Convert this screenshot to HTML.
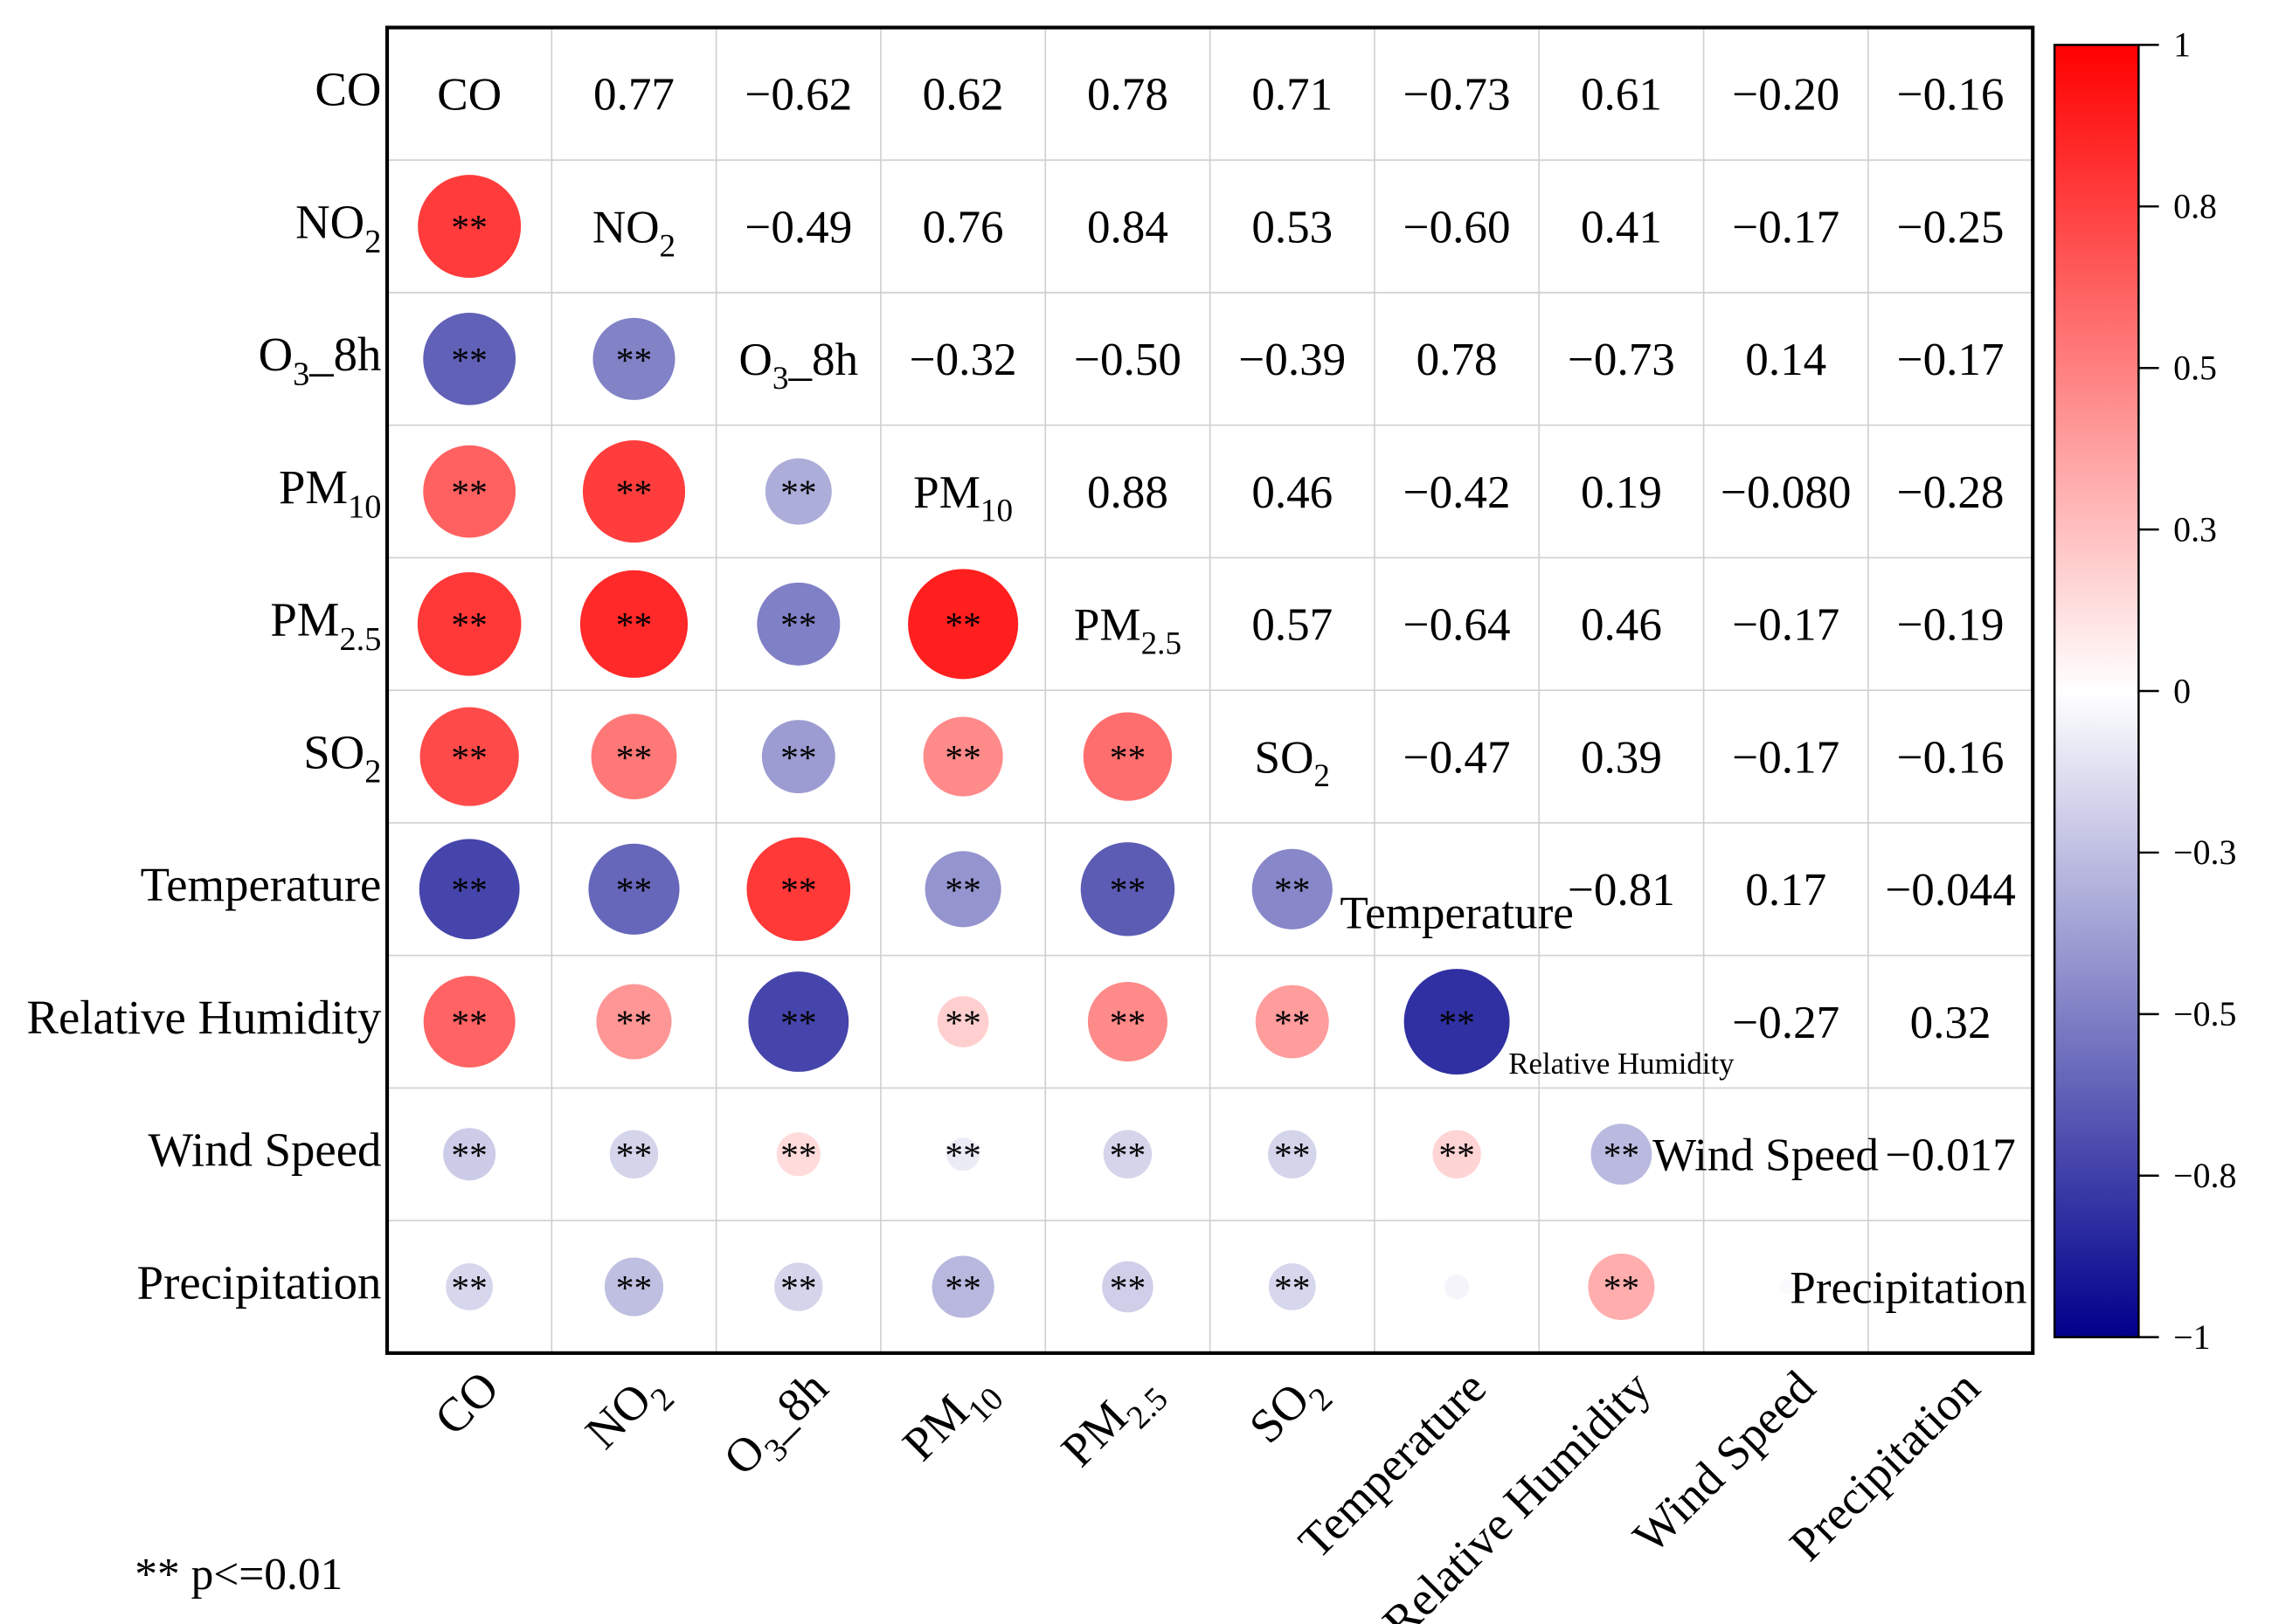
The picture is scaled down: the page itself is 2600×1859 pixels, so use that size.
<!DOCTYPE html>
<html><head><meta charset="utf-8"><style>
html,body{margin:0;padding:0;background:#fff;}
svg{display:block;font-family:"Liberation Serif",serif;}
</style></head><body>
<svg id="chart" width="2600" height="1859" viewBox="0 0 1567 1121" preserveAspectRatio="none" xmlns="http://www.w3.org/2000/svg">
<defs>
<linearGradient id="cbar" x1="0" y1="0" x2="0" y2="1">
<stop offset="0" stop-color="rgb(255,0,0)"/>
<stop offset="0.5" stop-color="rgb(255,255,255)"/>
<stop offset="1" stop-color="rgb(0,0,140)"/>
</linearGradient>
</defs>
<g id="grid"></g>
<g id="cells"></g>
<rect x="267" y="19" width="1135" height="915" fill="none" stroke="#000" stroke-width="2.5"/>
<g id="ylabels"></g>
<g id="xlabels"></g>
<g id="colorbar">
<rect x="1417" y="31" width="58" height="892" fill="url(#cbar)" stroke="#000" stroke-width="1.5"/>
</g>
<text x="93" y="1097" font-size="31">** p&lt;=0.01</text>
</svg>
<script>
const names = ["CO","NO2","O3_8h","PM10","PM2.5","SO2","Temperature","Relative Humidity","Wind Speed","Precipitation"];
const upperRows = [
 [0.77,-0.62,0.62,0.78,0.71,-0.73,0.61,-0.20,-0.16],
 [-0.49,0.76,0.84,0.53,-0.60,0.41,-0.17,-0.25],
 [-0.32,-0.50,-0.39,0.78,-0.73,0.14,-0.17],
 [0.88,0.46,-0.42,0.19,-0.080,-0.28],
 [0.57,-0.64,0.46,-0.17,-0.19],
 [-0.47,0.39,-0.17,-0.16],
 [-0.81,0.17,-0.044],
 [-0.27,0.32],
 [-0.017]
];
const upperText = [
 ["0.77","−0.62","0.62","0.78","0.71","−0.73","0.61","−0.20","−0.16"],
 ["−0.49","0.76","0.84","0.53","−0.60","0.41","−0.17","−0.25"],
 ["−0.32","−0.50","−0.39","0.78","−0.73","0.14","−0.17"],
 ["0.88","0.46","−0.42","0.19","−0.080","−0.28"],
 ["0.57","−0.64","0.46","−0.17","−0.19"],
 ["−0.47","0.39","−0.17","−0.16"],
 ["−0.81","0.17","−0.044"],
 ["−0.27","0.32"],
 ["−0.017"]
];
const cbTicks = [1,0.75,0.5,0.25,0,-0.25,-0.5,-0.75,-1];
const cbLabels = ["1","0.8","0.5","0.3","0","−0.3","−0.5","−0.8","−1"];

const NS="http://www.w3.org/2000/svg";
const X0=267,Y0=19,CW=113.5,RH=91.5,N=10;
const cx=i=>X0+CW*(i+0.5), cy=i=>Y0+RH*(i+0.5);
const cbY=v=>477-v*446;
function el(t,a,p){const e=document.createElementNS(NS,t);for(const k in a)e.setAttribute(k,a[k]);p.appendChild(e);return e;}
function color(r){
 const t=Math.min(1,Math.abs(r));
 if(r>=0){const g=Math.round(255*(1-t));return `rgb(255,${g},${g})`;}
 const g=Math.round(255*(1-t)),b=Math.round(255-115*t);return `rgb(${g},${g},${b})`;
}
function val(i,j){const a=Math.min(i,j),b=Math.max(i,j);return upperRows[a][b-a-1];}
function label(parent,name,x,y,attrs,fs){
 const t=el("text",Object.assign({x:x,y:y,"font-size":fs},attrs),parent);
 const parts={"NO2":["NO","2",""],"O3_8h":["O","3","_8h"],"PM10":["PM","10",""],"PM2.5":["PM","2.5",""],"SO2":["SO","2",""]}[name];
 if(!parts){t.textContent=name;return t;}
 el("tspan",{},t).textContent=parts[0];
 const s=el("tspan",{dy:fs*0.3,"font-size":fs*0.7},t);s.textContent=parts[1];
 if(parts[2]){const r=el("tspan",{dy:-fs*0.3},t);r.textContent=parts[2];}
 return t;
}
const grid=document.getElementById("grid");
for(let k=1;k<N;k++){
 const v=el("line",{x1:X0+CW*k,y1:Y0,x2:X0+CW*k,y2:Y0+RH*N,stroke:"#d0d0d0","stroke-width":1},grid);
 
 
 const h=el("line",{x1:X0,y1:Y0+RH*k,x2:X0+CW*N,y2:Y0+RH*k,stroke:"#d0d0d0","stroke-width":1},grid);
 
 
}
const cells=document.getElementById("cells");
for(let i=0;i<N;i++){
 for(let j=0;j<N;j++){
  if(i>j){
   const r=val(i,j);
   const c=el("circle",{cx:cx(j),cy:cy(i),r:40.5*Math.sqrt(Math.abs(r)),fill:color(r)},cells);
   
   
   if(Math.abs(r)>0.05){
    const s=el("text",{x:cx(j),y:cy(i)+9,"text-anchor":"middle","font-size":25},cells);
    s.textContent="**";
    
    
   }
  } else if(j>i){
   const t=el("text",{x:cx(j),y:cy(i)+11,"text-anchor":"middle","font-size":32},cells);
   t.textContent=upperText[i][j-i-1];
   
   
  }
 }
}
const diagPos=[[0,0,32],[0,0,32],[0,0,32],[0,0,32],[0,0,32],[0,0,32],[0,16,32],[0,25,21],[-14,0,32],[-29,0,32]];
for(let i=0;i<N;i++){
 const [dx,dy,fs]=diagPos[i];
 const t=label(cells,names[i],cx(i)+dx,cy(i)+11+dy,{"text-anchor":"middle"},fs);
 
 
}
const yl=document.getElementById("ylabels");
for(let i=0;i<N;i++){
 const t=label(yl,names[i],263,cy(i)+8,{"text-anchor":"end"},33);
 
 
}
const xl=document.getElementById("xlabels");
for(let i=0;i<N;i++){
 const x=cx(i)+22,y=960;
 const t=label(xl,names[i],x,y,{"text-anchor":"end",transform:`rotate(-45 ${x} ${y})`},33);
 
 
}
const cb=document.getElementById("colorbar");
cbTicks.forEach((v,k)=>{
 const y=cbY(v);
 const l=el("line",{x1:1475,y1:y,x2:1489,y2:y,stroke:"#000","stroke-width":1.5},cb);
 
 
 const t=el("text",{x:1499,y:y+8,"font-size":24},cb);
 t.textContent=cbLabels[k];
 
 
});
</script>
</body></html>
